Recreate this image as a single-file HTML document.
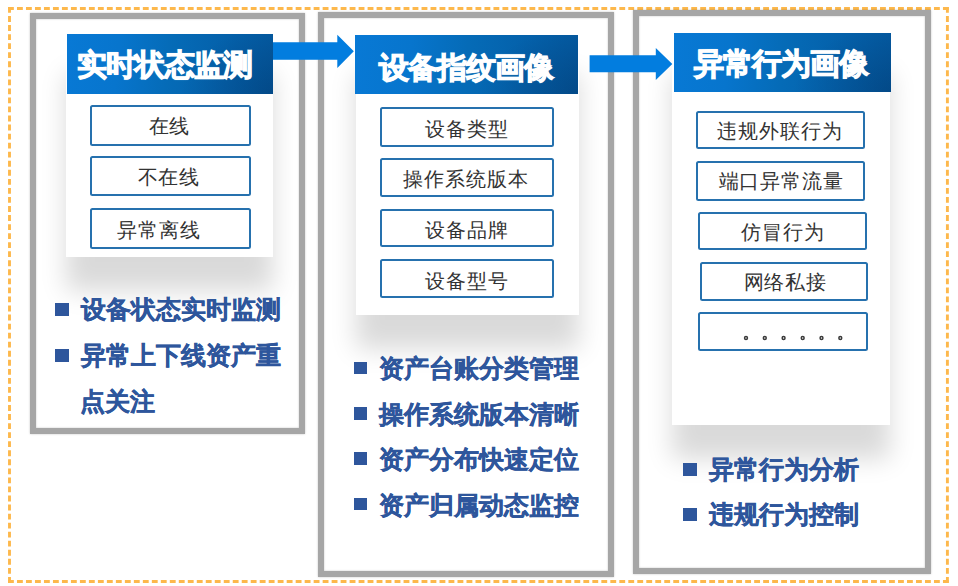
<!DOCTYPE html>
<html><head><meta charset="utf-8">
<style>
*{margin:0;padding:0;box-sizing:border-box}
html,body{width:958px;height:586px;background:#fff;overflow:hidden;position:relative;font-family:"Liberation Sans",sans-serif}
.a{position:absolute}
.panel{position:absolute;border:6px solid #a6a6a6;box-shadow:0 0 2px rgba(0,0,0,0.22),inset 0 0 2px rgba(0,0,0,0.25)}
.card{position:absolute;background:#fff;box-shadow:0 34px 24px rgba(0,0,0,0.15)}
.hdr{position:absolute;background:radial-gradient(ellipse 45% 110% at 100% 100%,rgba(0,20,55,0.22),rgba(0,20,55,0) 100%),linear-gradient(95deg,#0879d5 0%,#0775cd 25%,#056bb7 50%,#045fa8 80%,#04589e 100%)}
.box{position:absolute;border:2px solid #2671ae;border-radius:2.5px;background:#fff}
.sq{position:absolute;width:13.7px;height:12.8px;background:#2e569c}
.t{position:absolute;white-space:nowrap;line-height:1}
.h{font-size:30px;font-weight:bold;color:#fff;-webkit-text-stroke:1px #fff;text-shadow:0 0 1.5px rgba(200,235,255,0.6)}
.b{font-size:20px;letter-spacing:0.9px;color:#333}
.l{font-size:25px;font-weight:bold;color:#2e569c;-webkit-text-stroke:0.4px #2e569c}
</style></head><body>
<svg class="a" style="left:0;top:0" width="958" height="586"><g fill="none" stroke="#fdb84c" stroke-width="2.9"><line x1="8" y1="8.45" x2="948.8" y2="8.45" stroke-dasharray="5.85 3.14"/><line x1="8" y1="581.5" x2="948.8" y2="581.5" stroke-dasharray="5.85 3.14"/><line x1="9.5" y1="7" x2="9.5" y2="583" stroke-dasharray="5.85 3.197"/><line x1="947.4" y1="7" x2="947.4" y2="583" stroke-dasharray="5.85 3.197"/></g></svg>
<div class="panel" style="left:30.4px;top:13px;width:274.6px;height:421px"></div>
<div class="panel" style="left:318.4px;top:12.2px;width:296.1px;height:564.8px"></div>
<div class="panel" style="left:633.1px;top:10.2px;width:297.7px;height:564.3px"></div>
<div class="card" style="left:66px;top:40px;width:207.2px;height:217px"></div>
<div class="card" style="left:355.5px;top:40px;width:223.5px;height:275px"></div>
<div class="card" style="left:672.2px;top:40px;width:217.4px;height:385.4px"></div>
<svg class="a" style="left:0;top:0" width="958" height="586"><g fill="#027ddf"><polygon points="268,42.3 337.3,42.3 337.3,34.8 353.8,51.3 337.3,68 337.3,59.8 268,59.8"/><polygon points="589.6,55.3 655.8,55.3 655.8,48 672.3,64 655.8,80 655.8,72.2 589.6,72.2"/></g></svg>
<div class="hdr" style="left:67.4px;top:34.2px;width:205.8px;height:59.8px"></div>
<div class="hdr" style="left:355.4px;top:35px;width:223px;height:58.9px"></div>
<div class="hdr" style="left:674px;top:33.1px;width:216.8px;height:58.8px"></div>
<div class="box" style="left:89.5px;top:105.2px;width:161px;height:40.5px"></div>
<div class="box" style="left:89.5px;top:155.8px;width:161px;height:40.5px"></div>
<div class="box" style="left:89.5px;top:208.2px;width:161px;height:41px"></div>
<div class="box" style="left:379.5px;top:107px;width:174.5px;height:40px"></div>
<div class="box" style="left:379.5px;top:158.3px;width:174.5px;height:39.2px"></div>
<div class="box" style="left:379.5px;top:208.6px;width:174.5px;height:38.4px"></div>
<div class="box" style="left:379.5px;top:259.3px;width:174.5px;height:38.3px"></div>
<div class="box" style="left:695.5px;top:111px;width:169px;height:38px"></div>
<div class="box" style="left:696.3px;top:161.4px;width:169px;height:39.2px"></div>
<div class="box" style="left:698.3px;top:211.6px;width:168.3px;height:38.6px"></div>
<div class="box" style="left:700.3px;top:262.2px;width:168px;height:38.6px"></div>
<div class="box" style="left:698.2px;top:312.4px;width:169.4px;height:38.6px"></div>
<svg class="a" style="left:0;top:0" width="958" height="586"><g fill="none" stroke="#3a3a3a" stroke-width="1.5"><circle cx="746" cy="338" r="1.45"/><circle cx="764.8" cy="338" r="1.45"/><circle cx="783.6" cy="338" r="1.45"/><circle cx="802.7" cy="338" r="1.45"/><circle cx="821.5" cy="338" r="1.45"/><circle cx="840.3" cy="338" r="1.45"/></g></svg>
<div class="sq" style="left:55px;top:303px"></div>
<div class="sq" style="left:55px;top:349px"></div>
<div class="sq" style="left:353.6px;top:361.5px"></div>
<div class="sq" style="left:353.6px;top:407px"></div>
<div class="sq" style="left:353.6px;top:452px"></div>
<div class="sq" style="left:353.6px;top:497.5px"></div>
<div class="sq" style="left:683.2px;top:463px"></div>
<div class="sq" style="left:683.2px;top:508px"></div>
<div class="t h" style="left:77.0px;top:49.7px;letter-spacing:-0.8px">实时状态监测</div>
<div class="t h" style="left:378.6px;top:53.2px;letter-spacing:-0.85px">设备指纹画像</div>
<div class="t h" style="left:694.1px;top:49.1px;letter-spacing:-1px">异常行为画像</div>
<div class="t b" style="left:148.6px;top:115.6px;">在线</div>
<div class="t b" style="left:137.6px;top:166.9px;">不在线</div>
<div class="t b" style="left:117.3px;top:219.8px;">异常离线</div>
<div class="t b" style="left:425.4px;top:118.8px;">设备类型</div>
<div class="t b" style="left:403.2px;top:168.9px;">操作系统版本</div>
<div class="t b" style="left:425.4px;top:219.7px;">设备品牌</div>
<div class="t b" style="left:425.2px;top:270.5px;">设备型号</div>
<div class="t b" style="left:717.3px;top:121.2px;">违规外联行为</div>
<div class="t b" style="left:718.6px;top:170.5px;">端口异常流量</div>
<div class="t b" style="left:741.0px;top:221.7px;">仿冒行为</div>
<div class="t b" style="left:743.5px;top:271.8px;">网络私接</div>
<div class="t l" style="left:80.5px;top:297.4px;">设备状态实时监测</div>
<div class="t l" style="left:80.5px;top:343.4px;">异常上下线资产重</div>
<div class="t l" style="left:79.5px;top:389.4px;">点关注</div>
<div class="t l" style="left:378.7px;top:356.35px;">资产台账分类管理</div>
<div class="t l" style="left:378.5px;top:401.55px;">操作系统版本清晰</div>
<div class="t l" style="left:378.5px;top:446.65px;">资产分布快速定位</div>
<div class="t l" style="left:378.5px;top:492.55px;">资产归属动态监控</div>
<div class="t l" style="left:708.5px;top:457.0px;">异常行为分析</div>
<div class="t l" style="left:708.5px;top:501.9px;">违规行为控制</div>
</body></html>
